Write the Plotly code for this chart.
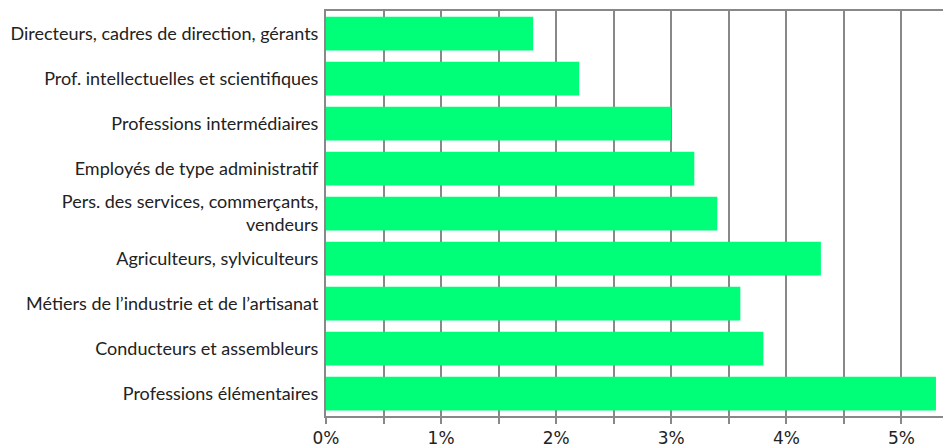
import plotly.graph_objects as go

categories = [
    "Directeurs, cadres de direction, gérants",
    "Prof. intellectuelles et scientifiques",
    "Professions intermédiaires",
    "Employés de type administratif",
    "Pers. des services, commerçants,<br>vendeurs",
    "Agriculteurs, sylviculteurs",
    "Métiers de l\u2019industrie et de l\u2019artisanat",
    "Conducteurs et assembleurs",
    "Professions élémentaires",
]
values = [1.8, 2.2, 3.0, 3.2, 3.4, 4.3, 3.6, 3.8, 5.3]
tick_vals = [0, 1, 2, 3, 4, 5]
tick_text = ["0%", "1%", "2%", "3%", "4%", "5%"]

fig = go.Figure(go.Bar(
    x=values, y=categories, orientation="h",
    marker=dict(color="#00ff78", line=dict(width=0)),
    width=0.75,
))

fig.update_layout(
    width=951, height=448, autosize=False,
    margin=dict(l=318, r=0, t=3, b=40),
    paper_bgcolor="white", plot_bgcolor="white",
    showlegend=False,
    font=dict(family="Lato", size=18, color="#222"),
)
fig.update_xaxes(
    range=[0, 5.5],
    tickvals=tick_vals, ticktext=tick_text,
    tickfont=dict(family="DejaVu Sans", size=17, color="#222"),
    showgrid=True, gridcolor="#888888", gridwidth=2,
    showline=True, linecolor="#888888", linewidth=2, mirror=True,
    ticks="outside", ticklen=6, tickcolor="#888888", tickwidth=2,
    minor=dict(dtick=0.5, tick0=0, showgrid=True, gridcolor="#888888", gridwidth=2,
               ticks="outside", ticklen=6, tickcolor="#888888", tickwidth=2),
    zeroline=False, fixedrange=True,
)
fig.update_yaxes(
    autorange=False, range=[8.5, -0.5],
    categoryorder="array", categoryarray=categories,
    showline=True, linecolor="#888888", linewidth=2,
    showgrid=False, ticks="", ticklabelstandoff=2,
    tickfont=dict(family="Lato", size=18, color="#222"),
)

fig.write_html("out.html")
